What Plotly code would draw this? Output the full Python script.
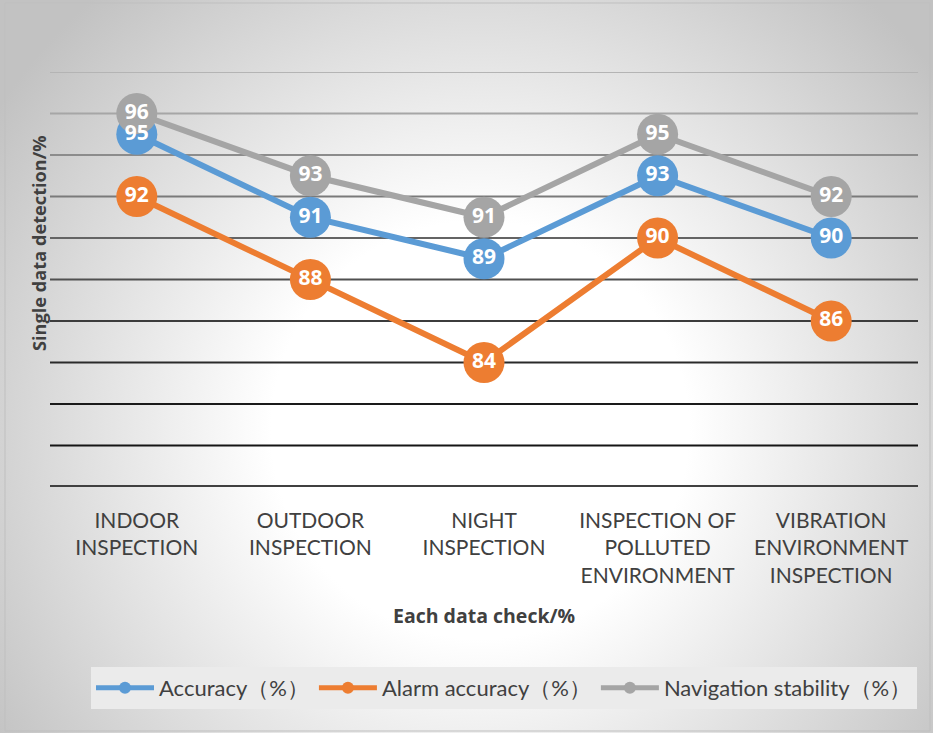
import base64
import plotly.graph_objects as go

categories = ["INDOOR<br>INSPECTION", "OUTDOOR<br>INSPECTION", "NIGHT<br>INSPECTION",
              "INSPECTION OF<br>POLLUTED<br>ENVIRONMENT", "VIBRATION<br>ENVIRONMENT<br>INSPECTION"]
accuracy = [95, 91, 89, 93, 90]
alarm_accuracy = [92, 88, 84, 90, 86]
navigation_stability = [96, 93, 91, 95, 92]
series_names = ["Accuracy（%）", "Alarm accuracy（%）", "Navigation stability（%）"]
y_ticks = [80, 82, 84, 86, 88, 90, 92, 94, 96, 98]

colors = ["#5B9BD5", "#ED7D31", "#A5A5A5"]
grid_colors = ["#151515", "#1a1a1a", "#2a2a2a", "#3c3c3c", "#505050",
               "#646464", "#7a7a7a", "#8c8c8c", "#a6a6a6", "#b4b4b4"]

W, H = 933, 733
L, R, T, B = 50, 15, 72, 246
pw, ph = W - L - R, H - T - B

svg = f'''<svg xmlns="http://www.w3.org/2000/svg" width="{W}" height="{H}">
<defs><radialGradient id="g" gradientUnits="userSpaceOnUse" cx="480" cy="430" r="580">
<stop offset="0" stop-color="#ffffff"/><stop offset="0.36" stop-color="#ffffff"/>
<stop offset="1" stop-color="#c2c2c2"/></radialGradient></defs>
<rect width="{W}" height="{H}" fill="url(#g)"/></svg>'''
src = "data:image/svg+xml;base64," + base64.b64encode(svg.encode()).decode()

fig = go.Figure()
x_idx = list(range(len(categories)))
all_series = [accuracy, alarm_accuracy, navigation_stability]
for name, vals, c in zip(series_names, all_series, colors):
    fig.add_trace(go.Scatter(
        x=x_idx, y=vals, name=name, mode="lines+markers",
        line=dict(color=c, width=6),
        marker=dict(color=c, size=41, line=dict(width=0)),
    ))
for vals in all_series:
    fig.add_trace(go.Scatter(
        x=x_idx, y=vals, mode="text", text=[str(v) for v in vals],
        textposition="middle center", showlegend=False, hoverinfo="skip",
        textfont=dict(family="Open Sans", size=21, color="white", weight="bold"),
    ))

shapes = []
for yv, gc in zip(y_ticks, grid_colors):
    shapes.append(dict(type="line", xref="paper", yref="y", x0=0, x1=1, y0=yv, y1=yv,
                       line=dict(color=gc, width=2), layer="below"))
shapes.append(dict(type="line", xref="paper", yref="y", x0=0, x1=1, y0=78, y1=78,
                   line=dict(color="#404040", width=4), layer="below"))
shapes.append(dict(type="rect", xref="paper", yref="paper",
                   x0=(5 - L) / pw, x1=(930 - L) / pw, y0=(H - B - 731) / ph, y1=(H - B - 3) / ph,
                   line=dict(color="#bfbfbf", width=1), layer="below"))

fig.update_layout(
    width=W, height=H,
    margin=dict(l=L, r=R, t=T, b=B, autoexpand=False),
    paper_bgcolor="#d8d8d8", plot_bgcolor="rgba(0,0,0,0)",
    images=[dict(source=src, xref="paper", yref="paper", x=-L / pw, y=1 + T / ph,
                 sizex=W / pw, sizey=H / ph, sizing="stretch", layer="below",
                 xanchor="left", yanchor="top")],
    shapes=shapes,
    xaxis=dict(range=[-0.5, 4.5], tickvals=x_idx, ticktext=categories, showgrid=False,
               zeroline=False, showline=False, ticks="", ticklabelstandoff=19,
               tickfont=dict(family="Lato", size=21, color="#404040")),
    yaxis=dict(range=[78, 98], showgrid=False, zeroline=False, showticklabels=False,
               showline=False, ticks=""),
    showlegend=True,
    legend=dict(orientation="h", x=(504 - L) / pw, xanchor="center", y=(H - B - 667) / ph,
                yanchor="top", bgcolor="#ebebeb", borderwidth=0, itemsizing="constant",
                itemwidth=58,
                font=dict(family="Lato", size=22, color="#404040")),
    annotations=[
        dict(text="<b>Each data check/%</b>", xref="paper", yref="paper",
             x=(484 - L) / pw, y=(H - B - 615) / ph, showarrow=False,
             xanchor="center", yanchor="middle",
             font=dict(family="Open Sans", size=19.5, color="#404040")),
        dict(text="<b>Single data detection/%</b>", xref="paper", yref="paper",
             x=(39 - L) / pw, y=(H - B - 243) / ph, showarrow=False, textangle=-90,
             xanchor="center", yanchor="middle",
             font=dict(family="Open Sans", size=18.2, color="#404040")),
    ],
)
fig.write_html("out.html")
